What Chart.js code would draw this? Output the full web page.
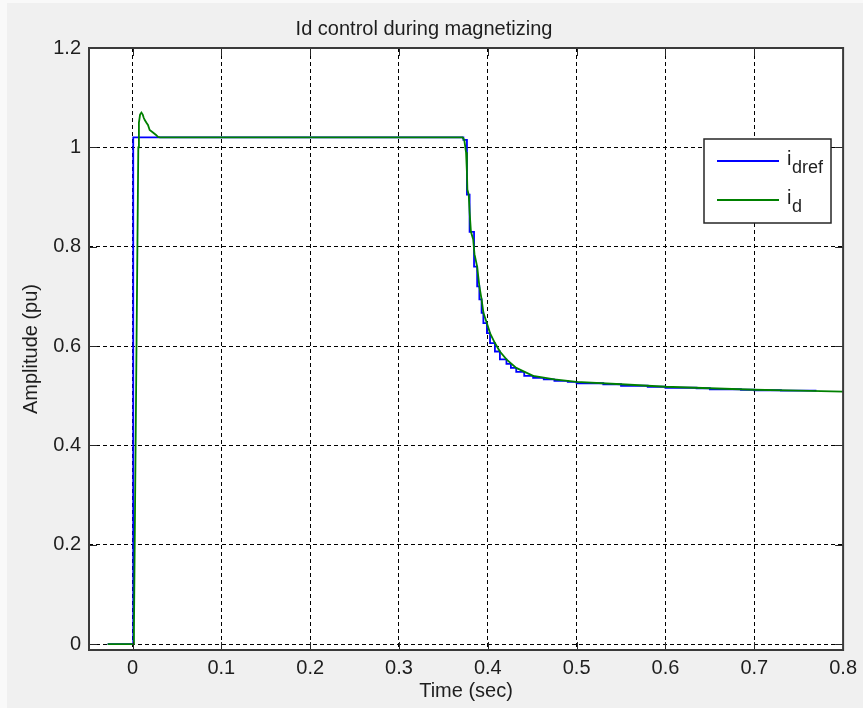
<!DOCTYPE html>
<html lang="en">
<head>
<meta charset="UTF-8">
<title>Id control during magnetizing</title>
<script src="https://cdn.jsdelivr.net/npm/chart.js"></script>
<style>
  html, body { margin: 0; padding: 0; background: #f0f0f0; }
  canvas { display: block; }
</style>
</head>
<body>
<canvas id="chart" width="863" height="708"></canvas>
<script>
// reference current i_dref (stepped, value held until the next time)
const timeRef = [-0.028, 0.0008, 0.3725, 0.3765, 0.3795, 0.3845, 0.388, 0.3905, 0.393, 0.395, 0.399, 0.4025, 0.408, 0.4136, 0.421, 0.426, 0.432, 0.441, 0.451, 0.463, 0.475, 0.49, 0.5, 0.53, 0.55, 0.58, 0.6, 0.635, 0.65, 0.685, 0.7, 0.73, 0.77];
const idRef   = [0, 1.02, 1.015, 0.905, 0.83, 0.76, 0.72, 0.694, 0.667, 0.646, 0.626, 0.606, 0.589, 0.573, 0.564, 0.556, 0.548, 0.54, 0.536, 0.533, 0.53, 0.528, 0.525, 0.523, 0.52, 0.518, 0.516, 0.515, 0.513, 0.512, 0.511, 0.51, 0.51];

// measured current i_d
const timeMeas = [-0.028, 0.0012, 0.0016, 0.0065, 0.0072, 0.0085, 0.010, 0.0115, 0.0125, 0.0138, 0.0155, 0.0174, 0.0193, 0.023, 0.0265, 0.0286, 0.031,
  0.3715, 0.3735, 0.3755, 0.3765, 0.377, 0.3785, 0.3795, 0.381, 0.3835, 0.385, 0.388, 0.3905, 0.393, 0.395, 0.399, 0.4025, 0.408, 0.4136, 0.421, 0.432, 0.451, 0.475, 0.5, 0.55, 0.6, 0.65, 0.7, 0.75, 0.8];
const idMeas = [0, 0, 0.03, 1.0, 1.05, 1.066, 1.07, 1.066, 1.06, 1.055, 1.05, 1.045, 1.035, 1.03, 1.025, 1.021, 1.02,
  1.02, 1.015, 0.99, 0.95, 0.915, 0.905, 0.87, 0.83, 0.815, 0.785, 0.76, 0.72, 0.694, 0.667, 0.646, 0.626, 0.606, 0.589, 0.573, 0.556, 0.54, 0.533, 0.528, 0.523, 0.518, 0.515, 0.512, 0.51, 0.508];

const xTicks = [0, 0.1, 0.2, 0.3, 0.4, 0.5, 0.6, 0.7, 0.8];
const xTickLabels = ['0', '0.1', '0.2', '0.3', '0.4', '0.5', '0.6', '0.7', '0.8'];
const yTicks = [0, 0.2, 0.4, 0.6, 0.8, 1, 1.2];
const yTickLabels = ['0', '0.2', '0.4', '0.6', '0.8', '1', '1.2'];

const FONT = '"Liberation Sans", Arial, sans-serif';
const TEXT = '#1e1e1e';

// figure background, white axes area, box, inner ticks, legend
const figurePlugin = {
  id: 'figure',
  beforeDraw(chart) {
    const { ctx, chartArea: a } = chart;
    ctx.save();
    ctx.fillStyle = '#f9f9f9';
    ctx.fillRect(0, 0, chart.width, chart.height);
    ctx.fillStyle = '#f0f0f0';
    ctx.fillRect(7, 3, chart.width - 7, chart.height - 3);
    ctx.fillStyle = '#ffffff';
    ctx.fillRect(a.left, a.top, a.right - a.left, a.bottom - a.top);
    ctx.restore();
  },
  afterDraw(chart) {
    const { ctx, chartArea: a, scales } = chart;
    ctx.save();
    // inner tick marks
    ctx.strokeStyle = '#262626';
    ctx.lineWidth = 1;
    ctx.beginPath();
    xTicks.forEach(v => {
      const px = Math.round(scales.x.getPixelForValue(v)) + 0.5;
      ctx.moveTo(px, a.bottom); ctx.lineTo(px, a.bottom - 8);
      ctx.moveTo(px, a.top); ctx.lineTo(px, a.top + 8);
    });
    yTicks.forEach(v => {
      const py = Math.round(scales.y.getPixelForValue(v)) + 0.5;
      ctx.moveTo(a.left, py); ctx.lineTo(a.left + 8, py);
      ctx.moveTo(a.right, py); ctx.lineTo(a.right - 8, py);
    });
    ctx.stroke();
    // axes box
    ctx.strokeStyle = '#3a3a3a';
    ctx.lineWidth = 2;
    ctx.strokeRect(a.left, a.top, a.right - a.left, a.bottom - a.top);

    // legend
    const lx = 704, ly = 139, lw = 127, lh = 84;
    ctx.fillStyle = '#ffffff';
    ctx.fillRect(lx, ly, lw, lh);
    ctx.strokeStyle = '#262626';
    ctx.lineWidth = 1.5;
    ctx.strokeRect(lx, ly, lw, lh);
    const items = [
      { color: '#0000ff', sub: 'dref', y: 161 },
      { color: '#008000', sub: 'd', y: 200 }
    ];
    items.forEach(it => {
      ctx.strokeStyle = it.color;
      ctx.lineWidth = 1.8;
      ctx.beginPath();
      ctx.moveTo(717, it.y); ctx.lineTo(779, it.y);
      ctx.stroke();
      ctx.fillStyle = TEXT;
      ctx.textBaseline = 'alphabetic';
      ctx.textAlign = 'left';
      ctx.font = '20px ' + FONT;
      ctx.fillText('i', 787, it.y + 4);
      ctx.font = '18px ' + FONT;
      ctx.fillText(it.sub, 792, it.y + 12);
    });
    ctx.restore();
  }
};

const toPoints = (xs, ys) => xs.map((x, i) => ({ x: x, y: ys[i] }));

new Chart(document.getElementById('chart'), {
  type: 'line',
  data: {
    datasets: [
      {
        label: 'i_dref',
        data: toPoints(timeRef, idRef),
        borderColor: '#0000ff',
        borderWidth: 1.8,
        stepped: 'before',
        pointRadius: 0,
        fill: false,
        order: 2
      },
      {
        label: 'i_d',
        data: toPoints(timeMeas, idMeas),
        borderColor: '#008000',
        borderWidth: 1.8,
        tension: 0,
        pointRadius: 0,
        fill: false,
        order: 1
      }
    ]
  },
  options: {
    responsive: false,
    animation: false,
    events: [],
    layout: { padding: { left: 0, right: 15, top: 0, bottom: 0 } },
    plugins: {
      legend: { display: false },
      tooltip: { enabled: false },
      title: {
        display: true,
        text: 'Id control during magnetizing',
        color: TEXT,
        font: { family: FONT, size: 20, weight: 'normal' },
        padding: { top: 17, bottom: 7 }
      }
    },
    scales: {
      x: {
        type: 'linear',
        min: -0.049,
        max: 0.8,
        afterBuildTicks: s => { s.ticks = xTicks.map(v => ({ value: v })); },
        afterFit: s => { s.height = 58; },
        ticks: {
          callback: (v, i) => xTickLabels[i],
          color: TEXT,
          font: { family: FONT, size: 20 },
          padding: 6,
          maxRotation: 0,
          autoSkip: false
        },
        grid: { color: '#000000', lineWidth: 1, drawTicks: false },
        border: { display: false, dash: [4, 3] },
        title: {
          display: true,
          text: 'Time (sec)',
          color: TEXT,
          font: { family: FONT, size: 20 },
          padding: { top: 0, bottom: 5 }
        }
      },
      y: {
        type: 'linear',
        min: -0.012,
        max: 1.2,
        afterBuildTicks: s => { s.ticks = yTicks.map(v => ({ value: v })); },
        afterFit: s => { s.width = 89; },
        ticks: {
          callback: (v, i) => yTickLabels[i],
          color: TEXT,
          font: { family: FONT, size: 20 },
          padding: 8,
          autoSkip: false
        },
        grid: { color: '#000000', lineWidth: 1, drawTicks: false },
        border: { display: false, dash: [4, 3] },
        title: {
          display: true,
          text: 'Amplitude (pu)',
          color: TEXT,
          font: { family: FONT, size: 20 },
          padding: { top: 19, bottom: 0 }
        }
      }
    }
  },
  plugins: [figurePlugin]
});
</script>
</body>
</html>
